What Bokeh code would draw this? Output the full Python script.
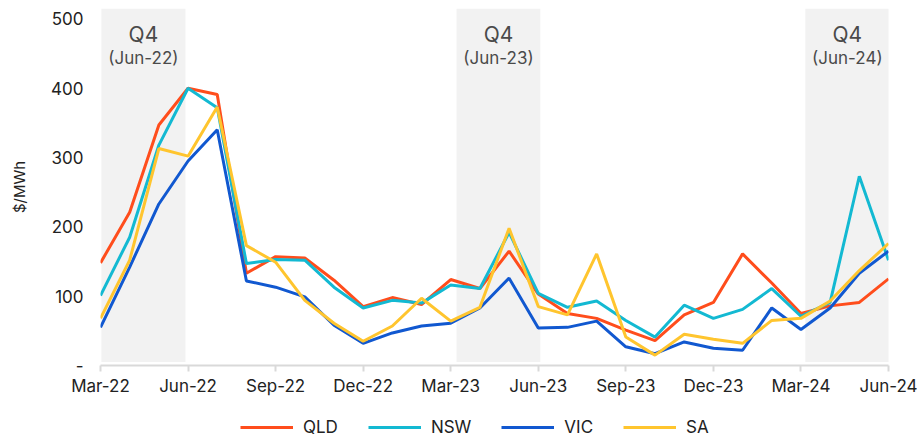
from bokeh.plotting import figure
from bokeh.layouts import column
from bokeh.models import FixedTicker, Legend, LegendItem, Range1d
from bokeh.core.properties import value
from bokeh.embed import file_html
from bokeh.resources import INLINE

months = ["Mar-22", "Apr-22", "May-22", "Jun-22", "Jul-22", "Aug-22", "Sep-22", "Oct-22",
          "Nov-22", "Dec-22", "Jan-23", "Feb-23", "Mar-23", "Apr-23", "May-23", "Jun-23",
          "Jul-23", "Aug-23", "Sep-23", "Oct-23", "Nov-23", "Dec-23", "Jan-24", "Feb-24",
          "Mar-24", "Apr-24", "May-24", "Jun-24"]
qld = [148, 221, 347, 400, 391, 133, 157, 155, 123, 85, 98, 88, 124, 111, 165, 103,
       75, 68, 51, 36, 73, 91, 161, 119, 75, 86, 91, 125]
nsw = [101, 185, 318, 400, 372, 147, 153, 152, 113, 83, 94, 90, 116, 111, 192, 104,
       84, 93, 65, 41, 87, 68, 81, 111, 71, 91, 273, 152]
vic = [55, 142, 233, 295, 340, 122, 113, 99, 58, 32, 47, 57, 61, 83, 126, 54,
       55, 64, 27, 17, 34, 25, 22, 83, 52, 83, 133, 165]
sa = [68, 152, 313, 302, 373, 173, 149, 94, 61, 35, 57, 97, 64, 84, 198, 85,
      73, 161, 41, 15, 45, 38, 32, 65, 68, 93, 137, 176]

tick_labels = ["Mar-22", "Jun-22", "Sep-22", "Dec-22", "Mar-23", "Jun-23",
               "Sep-23", "Dec-23", "Mar-24", "Jun-24"]
y_ticks = [0, 100, 200, 300, 400, 500]
y_tick_labels = ["-", "100", "200", "300", "400", "500"]

band_title = ["Q4", "Q4", "Q4"]
band_sub = ["(Jun-22)", "(Jun-23)", "(Jun-24)"]
band_left = [0.03, 12.2, 24.15]
band_right = [2.91, 15.07, 27.03]
band_bottom = [5, 5, 5]
band_top = [515, 515, 515]

series = [("QLD", qld, "#FF4D1C"), ("NSW", nsw, "#13B9D2"),
          ("VIC", vic, "#1158D0"), ("SA", sa, "#FFC52E")]

FONT = "Inter"
x = list(range(len(months)))

p = figure(frame_width=788, frame_height=357,
           output_backend="svg", toolbar_location=None,
           x_range=Range1d(0, len(months) - 1), y_range=Range1d(0, 515),
           min_border_left=100, min_border_right=30, min_border_top=8, min_border_bottom=45)
p.outline_line_color = None
p.grid.visible = False
p.background_fill_color = "white"

p.quad(left=band_left, right=band_right, bottom=band_bottom, top=band_top,
       fill_color="#F2F2F2", line_color=None)
centers = [(a + b) / 2 for a, b in zip(band_left, band_right)]
centers[0] = 1.47
p.text(x=centers, y=[478] * 3, text=band_title, text_align="center", text_baseline="middle",
       text_font=value(FONT), text_font_size="21px", text_color="#4a4a4a")
p.text(x=centers, y=[444] * 3, text=band_sub, text_align="center", text_baseline="middle",
       text_font=value(FONT), text_font_size="17px", text_color="#4a4a4a")

for name, vals, col in series:
    p.line(x, vals, line_color=col, line_width=3)

tick_pos = [months.index(t) for t in tick_labels]
p.xaxis.ticker = FixedTicker(ticks=tick_pos)
p.xaxis.major_label_overrides = {i: t for i, t in zip(tick_pos, tick_labels)}
p.xaxis.axis_line_color = "#D9D9D9"
p.xaxis.axis_line_width = 2
p.xaxis.major_tick_line_color = "#D9D9D9"
p.xaxis.major_tick_line_width = 2
p.xaxis.major_tick_out = 6
p.xaxis.major_tick_in = 0
p.xaxis.minor_tick_line_color = None
p.xaxis.major_label_standoff = 4
p.xaxis.major_label_text_font = FONT
p.xaxis.major_label_text_font_size = "17px"
p.xaxis.major_label_text_color = "#222222"

p.yaxis.ticker = FixedTicker(ticks=y_ticks)
p.yaxis.major_label_overrides = {t: l for t, l in zip(y_ticks, y_tick_labels)}
p.yaxis.axis_line_color = None
p.yaxis.major_tick_line_color = None
p.yaxis.minor_tick_line_color = None
p.yaxis.major_label_standoff = 11
p.yaxis.major_label_text_font = FONT
p.yaxis.major_label_text_font_size = "17px"
p.yaxis.major_label_text_color = "#222222"
p.yaxis.axis_label = "$/MWh"
p.yaxis.axis_label_text_font = FONT
p.yaxis.axis_label_text_font_style = "normal"
p.yaxis.axis_label_text_font_size = "15px"
p.yaxis.axis_label_text_color = "#222222"
p.yaxis.axis_label_standoff = 19

# legend strip below the chart (series drawn out of its visible range, only legend shows)
leg = figure(frame_width=788, frame_height=34, output_backend="svg", toolbar_location=None,
             x_range=Range1d(0, len(months) - 1), y_range=Range1d(-2, -1),
             min_border_left=100, min_border_right=30, min_border_top=0, min_border_bottom=0)
leg.outline_line_color = None
leg.grid.visible = False
leg.axis.visible = False
items = []
for name, vals, col in series:
    r = leg.line(x, vals, line_color=col, line_width=3)
    items.append(LegendItem(label=name, renderers=[r]))
legend = Legend(items=items, orientation="horizontal", location=(140, 7),
                glyph_width=53, glyph_height=14, label_standoff=10, spacing=30,
                label_text_font=FONT, label_text_font_size="17px", label_text_color="#222222",
                border_line_color=None, background_fill_alpha=0, padding=0, margin=0)
leg.add_layout(legend, "center")

layout = column(p, leg, spacing=0)
open("out.html", "w").write(file_html(layout, INLINE))
